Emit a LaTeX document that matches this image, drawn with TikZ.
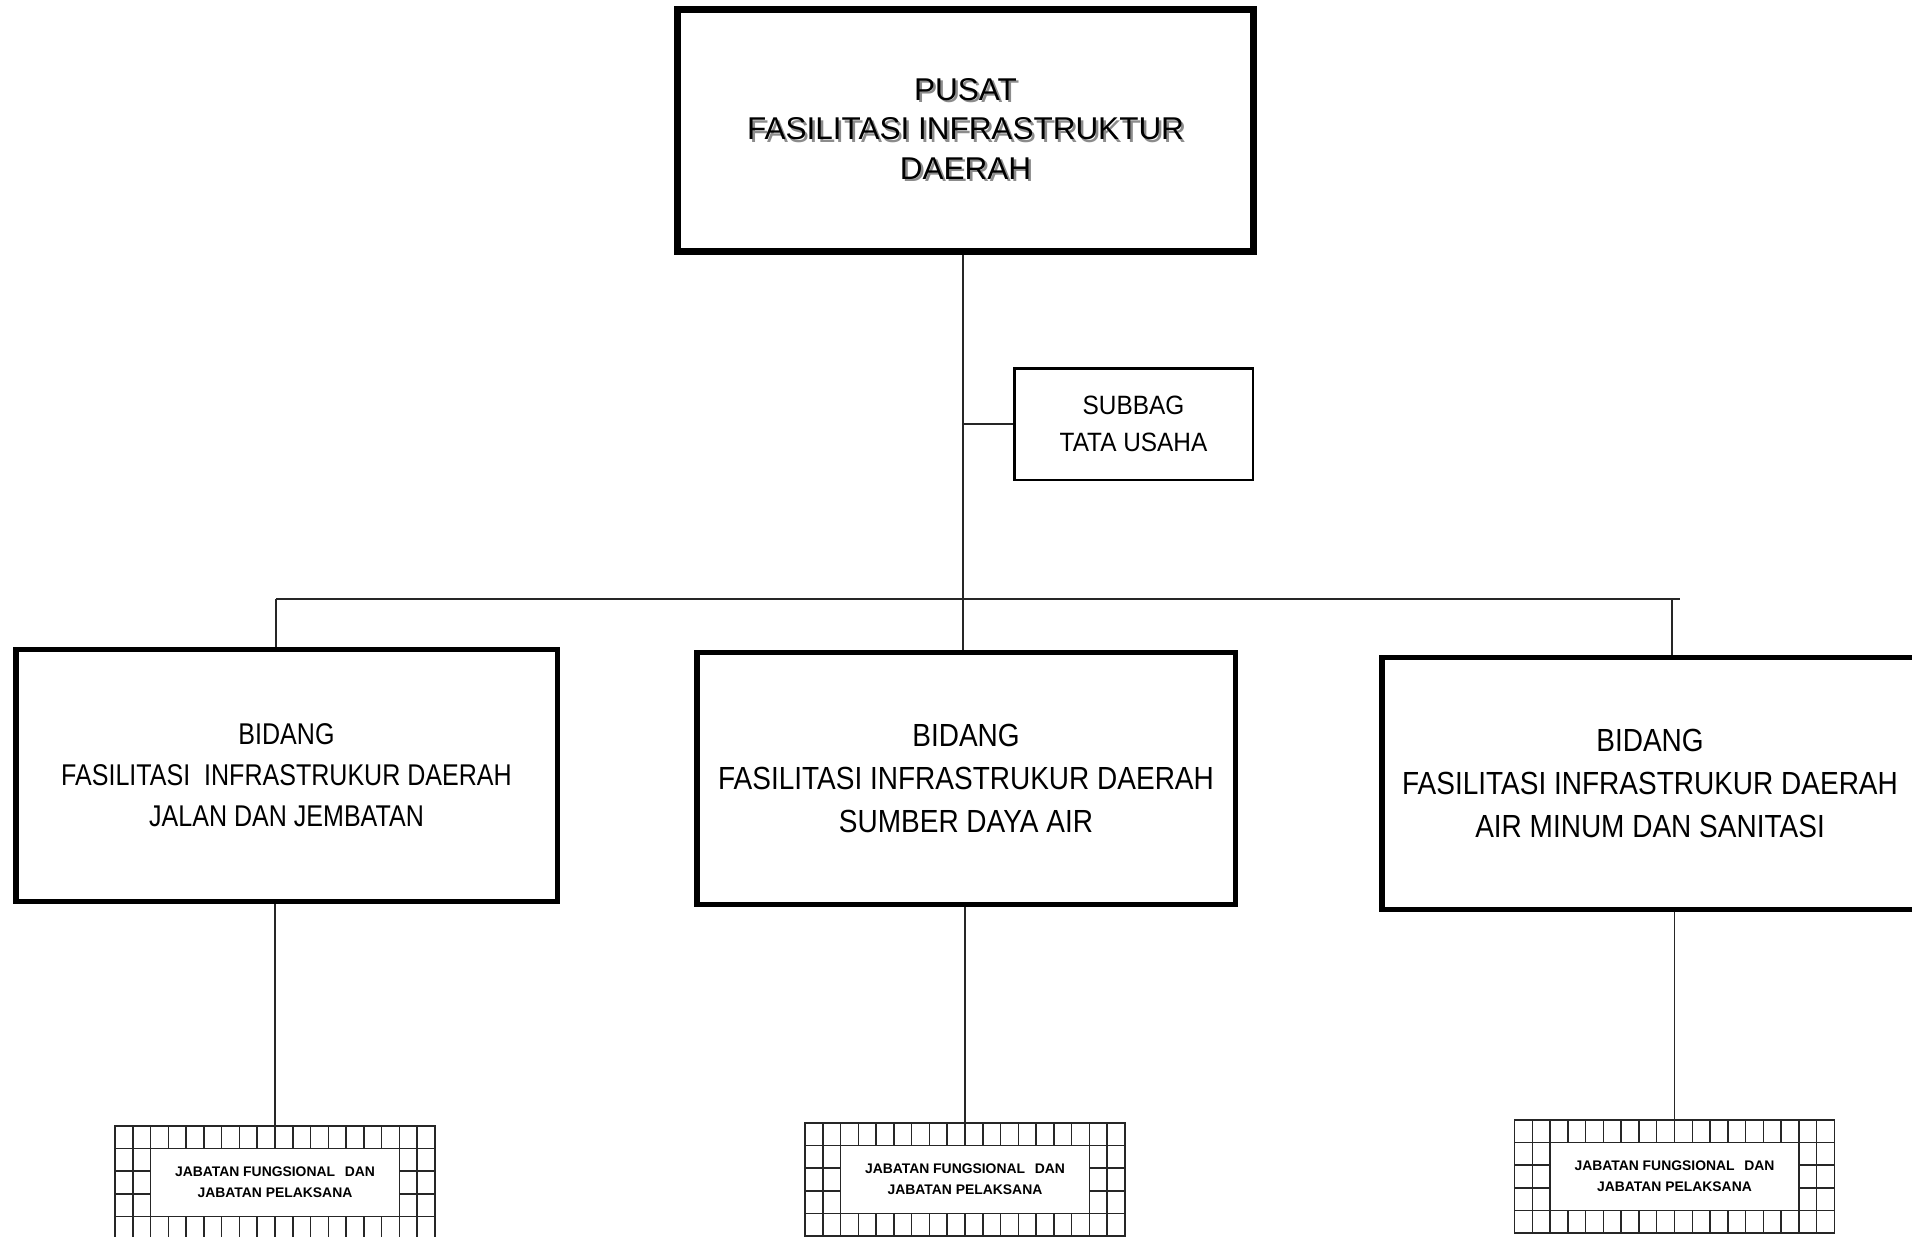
\documentclass[tikz,border=0pt]{standalone}
\usepackage{fontspec}
\setmainfont{Liberation Sans}
\newfontfamily\narrowmid{Liberation Sans}[FakeStretch=0.875]
\newfontfamily\narrowleft{Liberation Sans}[FakeStretch=0.835]
\newfontfamily\narrowsub{Liberation Sans}[FakeStretch=0.92]
\usetikzlibrary{calc}
\tikzset{
  link/.style={line width=1.6pt, draw=black!85},
  gridline/.style={line width=1.5pt, draw=black!85},
  pusatbox/.style={draw, line width=7pt, minimum width=576pt, minimum height=242pt, inner sep=0pt, align=center, font=\fontsize{31.5}{39.5}\selectfont},
  shadowtext/.style={inner sep=0pt, align=center, text=black!45, font=\fontsize{31.5}{39.5}\selectfont},
  subbox/.style={draw, line width=2.5pt, minimum width=238.5pt, minimum height=111.5pt, inner sep=0pt, align=center, font=\narrowsub\fontsize{26.5}{37}\selectfont},
  bidbox/.style={draw, line width=5.5pt, minimum height=252pt, inner sep=0pt, align=center, font=\narrowmid\fontsize{32}{43}\selectfont},
  bidnarrow/.style={bidbox, font=\narrowleft\fontsize{30}{41}\selectfont},
  gridbox/.style={draw, line width=1.5pt, draw=black!85, minimum width=320pt, minimum height=113pt, inner sep=0pt, outer sep=0pt, align=center, font=\bfseries\fontsize{13.9}{21}\selectfont}
}
\newcommand\cellgrid[1]{%
  \foreach \i in {1,...,17}{%
    \draw[gridline] ($(#1.north west)+(\i*17.778,0)$) -- ++(0,22.6);
    \draw[gridline] ($(#1.south west)+(\i*17.778,0)$) -- ++(0,-22.6);
  }
  \foreach \j in {2,3}{%
    \draw[gridline] ($(#1.north west)+(0,\j*22.6)$) -- ++(35.556,0);
    \draw[gridline] ($(#1.north east)+(0,\j*22.6)$) -- ++(-35.556,0);
  }
  \draw[gridline] ($(#1.north west)+(0,22.6)$) -- ($(#1.north east)+(0,22.6)$);
  \draw[gridline] ($(#1.south west)+(0,-22.6)$) -- ($(#1.south east)+(0,-22.6)$);
  \foreach \i in {1,2,16,17}{%
    \draw[gridline] ($(#1.north west)+(\i*17.778,22.6)$) -- ($(#1.south west)+(\i*17.778,-22.6)$);
  }
}
\begin{document}
\begin{tikzpicture}[x=1pt,y=-1pt]
\useasboundingbox (0,0) rectangle (1912,1237);
\fill[white] (0,0) rectangle (1912,1237);

% top box with shadowed title
\node[shadowtext] (pusatshadow) at (968,131) {PUSAT\\FASILITASI INFRASTRUKTUR\\DAERAH};
\node[pusatbox] (pusat) at (965.5,130.5) {};
\node[inner sep=0pt, align=center, font=\fontsize{31.5}{39.5}\selectfont] (pusattext) at (965.5,128.5) {PUSAT\\FASILITASI INFRASTRUKTUR\\DAERAH};

\node[subbox] (sub) at (1133.5,424) {SUBBAG\\TATA USAHA};

\node[bidnarrow, minimum width=541.5pt] (b1) at (286.5,775.5) {BIDANG\\FASILITASI\ \ INFRASTRUKUR DAERAH\\JALAN DAN JEMBATAN};
\node[bidbox, minimum width=538.5pt] (b2) at (966,778.5) {BIDANG\\FASILITASI INFRASTRUKUR DAERAH\\SUMBER DAYA AIR};
\node[bidbox, minimum width=536.5pt] (b3) at (1650,783.5) {BIDANG\\FASILITASI INFRASTRUKUR DAERAH\\AIR MINUM DAN SANITASI};

\node[gridbox] (g1) at (275,1182.5) {JABATAN FUNGSIONAL\hspace{0.7em}DAN\\JABATAN PELAKSANA};
\node[gridbox] (g2) at (965,1179.5) {JABATAN FUNGSIONAL\hspace{0.7em}DAN\\JABATAN PELAKSANA};
\node[gridbox] (g3) at (1674.5,1176.5) {JABATAN FUNGSIONAL\hspace{0.7em}DAN\\JABATAN PELAKSANA};
\cellgrid{g1}
\cellgrid{g2}
\cellgrid{g3}

% connectors
\coordinate (spine) at (963,599);
\coordinate (busl) at (276,599);
\coordinate (busr) at (1680,599);
\coordinate (drop3) at (1672,599);
\draw[link] (spine |- pusat.south) -- (spine |- b2.north);
\draw[link] (spine |- sub.west) -- (sub.west);
\draw[link] (busl) -- (busr);
\draw[link] (busl) -- (busl |- b1.north);
\draw[link] (drop3) -- (drop3 |- b3.north);
\draw[link] (g1.north) -- (g1.north |- b1.south);
\draw[link] (g2.north) -- (g2.north |- b2.south);
\draw[link] (g3.north) -- (g3.north |- b3.south);
\end{tikzpicture}
\end{document}
